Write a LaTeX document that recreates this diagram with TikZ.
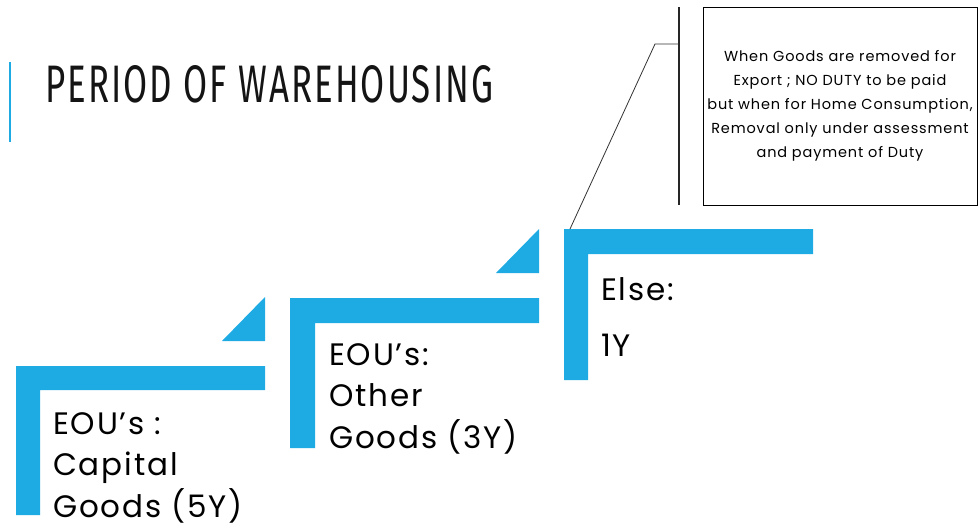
\documentclass[tikz,border=0pt]{standalone}
\usepackage{fontspec}
\setmainfont{Poppins}[LetterSpace=6]
\newfontfamily\titlefont[LetterSpace=6]{Fira Sans}
\definecolor{stepblue}{RGB}{30,171,227}
\definecolor{titleink}{RGB}{20,20,20}
\begin{document}
\begin{tikzpicture}[x=1pt,y=-1pt,
  stepfill/.style={fill=stepblue,draw=none},
  steptext/.style={anchor=base west,inner sep=0pt,align=left,text=black,font=\fontsize{31}{41.5}\selectfont},
  calloutbox/.style={draw=black,line width=0.8pt,minimum width=274pt,minimum height=198pt,inner sep=2pt,align=center,font=\fontsize{14.5}{24}\selectfont},
  leader/.style={draw=black!80,line width=0.8pt}]
\useasboundingbox (0,0) rectangle (978,525);
% accent line and title
\draw[stepblue,line width=1.5pt] (10,62) -- (10,142);
\node[anchor=north west,inner sep=0pt,text=titleink] (title) at (45,65) {\resizebox{448pt}{37pt}{\titlefont PERIOD OF WAREHOUSING}};
% step 1
\fill[stepfill] (16,515) -- (16,366) -- (265,366) -- (265,390) -- (40,390) -- (40,515) -- cycle;
\fill[stepfill] (222,341) -- (265,341) -- (265,297) -- cycle;
% step 2
\fill[stepfill] (290,448) -- (290,298) -- (539,298) -- (539,323) -- (315,323) -- (315,448) -- cycle;
\fill[stepfill] (496,273) -- (539,273) -- (539,229) -- cycle;
% step 3
\fill[stepfill] (564,380) -- (564,229) -- (813,229) -- (813,254) -- (588,254) -- (588,380) -- cycle;
\coordinate (s3top) at (570,229);
% texts (anchor = baseline of last line)
\node[steptext] (t1) at (53,517) {EOU’s :\\Capital\\Goods (5Y)};
\node[steptext] (t2) at (329,448) {EOU’s:\\Other\\Goods (3Y)};
\node[steptext] (t3) at (601,356) {Else:\\[14pt]1Y};
% callout
\node[calloutbox] (callout) at (840,106) {When Goods are removed for\\Export ; NO DUTY to be paid\\but when for Home Consumption,\\Removal only under assessment\\and payment of Duty};
\coordinate (bt) at (679,7);
\coordinate (bb) at (679,205);
\draw[black!85,line width=1.6pt] (bt) -- (bb);
\coordinate (bk) at (679,44);
\coordinate (knee) at (655,44);
\draw[leader] (bk) -- (knee) -- (s3top);
\end{tikzpicture}
\end{document}
